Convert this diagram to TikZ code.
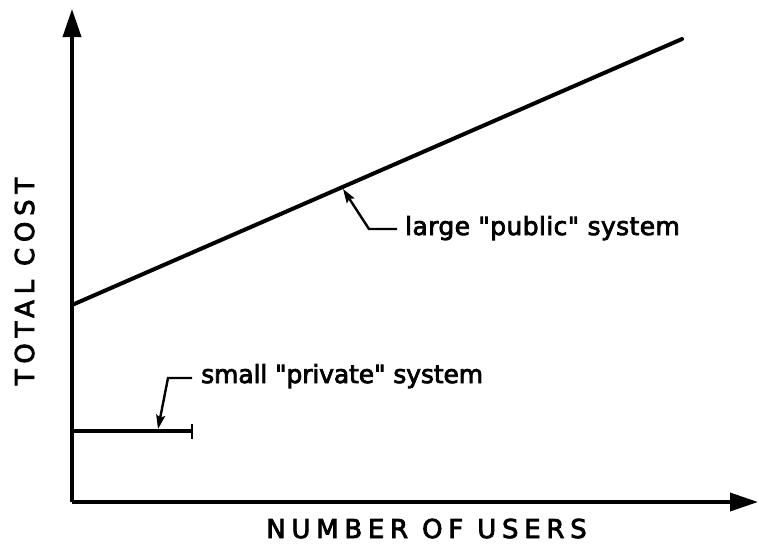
\documentclass[tikz,border=0pt]{standalone}
\usepackage{fontspec}
\usetikzlibrary{arrows.meta}
\newfontfamily\capsfont[LetterSpace=22,FakeBold=3]{DejaVu Sans}
\newfontfamily\lowfont[LetterSpace=1.5,FakeBold=3]{DejaVu Sans}
\newfontfamily\lowtightfont[LetterSpace=-0.5,FakeBold=3]{DejaVu Sans}
\begin{document}
\begin{tikzpicture}[x=1pt,y=-1pt,
  axis/.style={line width=3.6pt,-{Triangle[length=28pt,width=18pt]}},
  curve/.style={line width=4pt,line cap=round},
  leader/.style={line width=2.4pt,-{Stealth[length=14pt,width=9pt,inset=2.5pt]}},
  axislabel/.style={inner sep=0pt,font=\capsfont\fontsize{26}{28}\selectfont},
  curvelabel/.style={inner sep=0pt,anchor=base west,font=\lowfont\fontsize{25}{28}\selectfont}]
  \useasboundingbox (0,0) rectangle (759,550);

  % axes
  \coordinate (O) at (72,502);
  \coordinate (ytip) at (72,9);
  \coordinate (xtip) at (758,502);
  \draw[axis] (O) -- (ytip);
  \draw[axis] (O) -- (xtip);

  % cost lines
  \coordinate (pubA) at (72,305);
  \coordinate (pubB) at (682,39);
  \draw[curve] (pubA) -- (pubB);
  \coordinate (privA) at (72,431);
  \coordinate (privB) at (192,431);
  \draw[line width=3.4pt] (privA) -- (privB);
  \draw[line width=2.8pt] (192,424) -- (192,439);

  % labels
  \node[curvelabel] (publab) at (405,235) {large "public" system};
  \node[curvelabel,font=\lowtightfont\fontsize{25}{28}\selectfont] (privlab) at (201,383) {small "private" system};
  \node[axislabel,anchor=base] (xlab) at (426.5,538) {NUMBER OF USERS};
  \node[axislabel,anchor=base,rotate=90] (ylab) at (34,281.5) {TOTAL COST};

  % leaders
  \coordinate (pubtip) at (343,189);
  \coordinate (privtip) at (158,429);
  \draw[leader] (397,229) -- (369,229) -- (pubtip);
  \draw[leader] (192,378) -- (168,378) -- (privtip);
\end{tikzpicture}
\end{document}
